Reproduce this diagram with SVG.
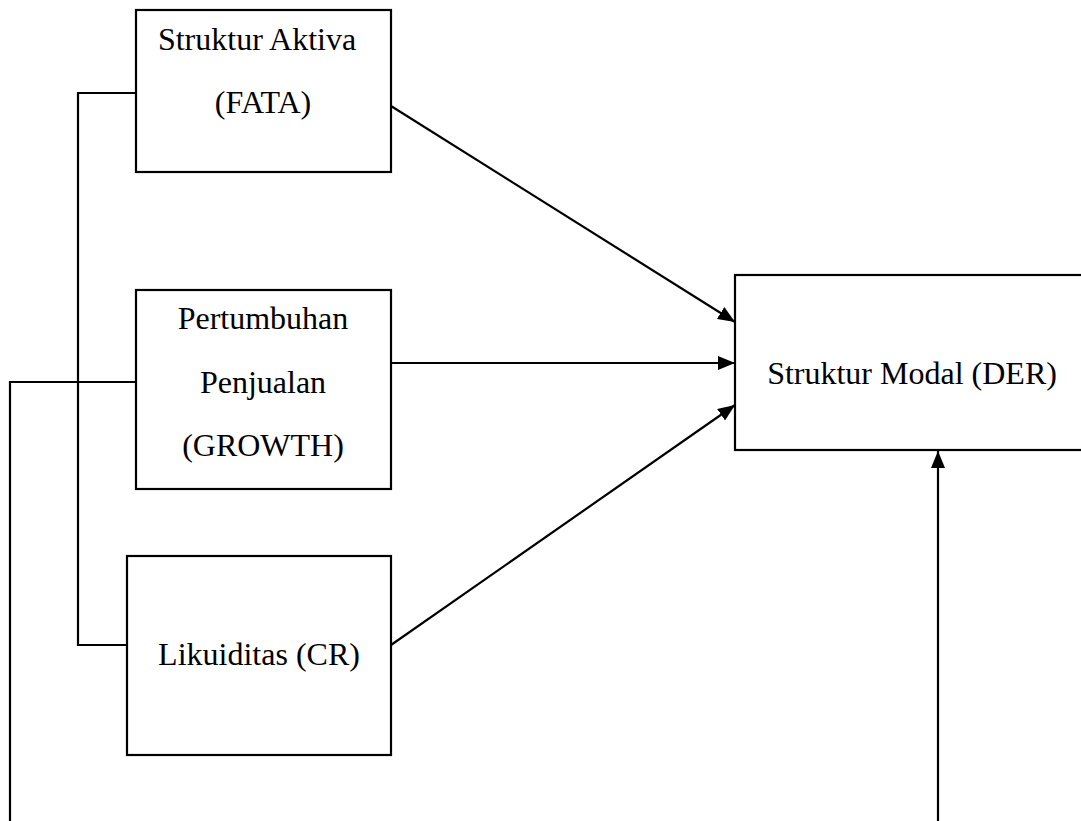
<svg xmlns="http://www.w3.org/2000/svg" width="1081" height="821" viewBox="0 0 1081 821">
<defs>
<marker id="ah" viewBox="0 0 17 14" refX="17" refY="7" markerWidth="17" markerHeight="14" markerUnits="userSpaceOnUse" orient="auto">
<path d="M0,0 L17,7 L0,14 Z" fill="#000"/>
</marker>
</defs>
<style>
.box{fill:#fff;stroke:#000;stroke-width:2.2}
.t{font-family:"Liberation Serif","Times New Roman",serif;font-size:32px;fill:#000;text-anchor:middle}
.c{fill:none;stroke:#000;stroke-width:2.2}
</style>
<rect width="1081" height="821" fill="#fff"/>
<g id="connectors">
<polyline class="c" points="136,93 78,93 78,645 127,645"/>
<polyline class="c" points="136,382 10,382 10,821"/>
<line class="c" x1="391" y1="106" x2="735" y2="322" marker-end="url(#ah)"/>
<line class="c" x1="391" y1="363" x2="735" y2="363" marker-end="url(#ah)"/>
<line class="c" x1="391" y1="645" x2="735" y2="405" marker-end="url(#ah)"/>
<line class="c" x1="938" y1="821" x2="938" y2="451" marker-end="url(#ah)"/>
</g>
<g id="fata">
<rect class="box" x="136" y="10" width="255" height="162"/>
<text class="t" x="257" y="50">Struktur Aktiva</text>
<text class="t" x="263" y="113">(FATA)</text>
</g>
<g id="growth">
<rect class="box" x="136" y="290" width="255" height="199"/>
<text class="t" x="263" y="329">Pertumbuhan</text>
<text class="t" x="263" y="393">Penjualan</text>
<text class="t" x="263" y="456">(GROWTH)</text>
</g>
<g id="cr">
<rect class="box" x="127" y="556" width="264" height="199"/>
<text class="t" x="259" y="665">Likuiditas (CR)</text>
</g>
<g id="der">
<rect class="box" x="735" y="275" width="360" height="175"/>
<text class="t" x="912" y="384">Struktur Modal (DER)</text>
</g>
</svg>
